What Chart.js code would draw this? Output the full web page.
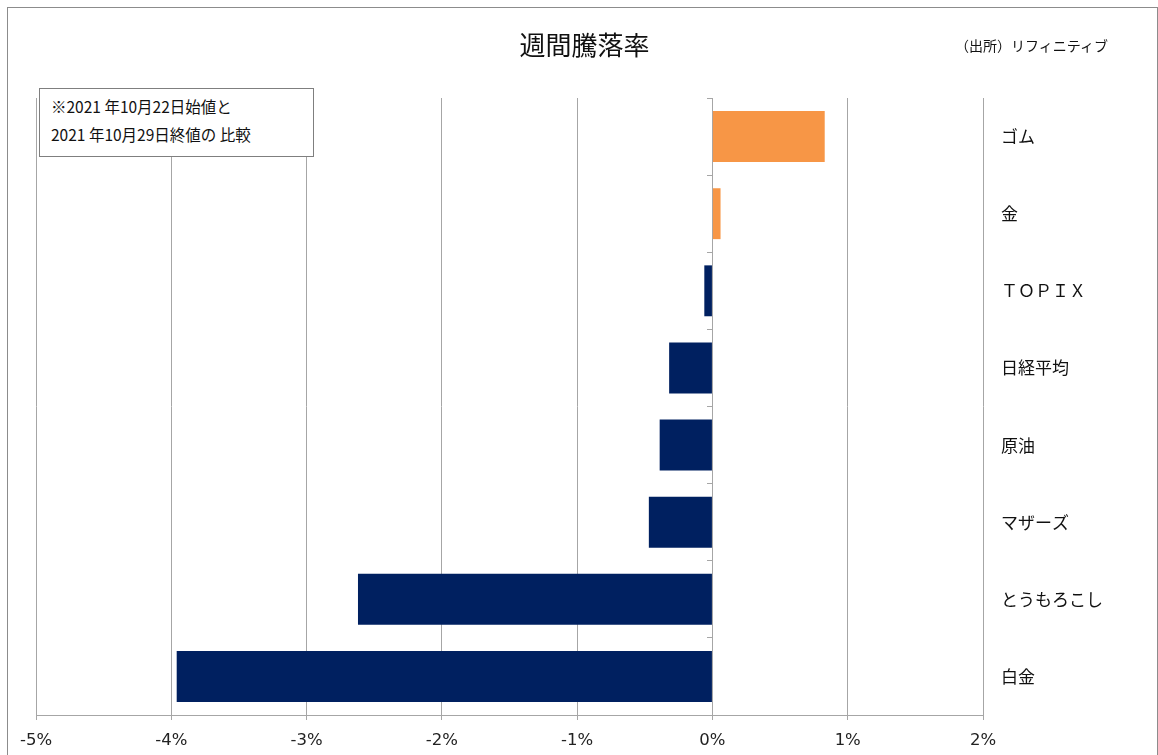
<!DOCTYPE html>
<html lang="ja">
<head>
<meta charset="utf-8">
<script src="https://cdn.jsdelivr.net/npm/chart.js@4.4.1/dist/chart.umd.min.js"></script>
<style>
    html, body { margin: 0; padding: 0; background: #fff; overflow: hidden; }
    .frame {
        position: absolute; left: 7px; top: 7px; width: 1149px; height: 770px;
        border: 1px solid #8c8c8c; background: #fff;
    }
    .chart-box { position: absolute; left: 0; top: 0; width: 1149px; height: 747px; }
    .title {
        position: absolute; left: 0; width: 1149px; top: 17px; text-align: center;
        font: 26px "Noto Sans CJK JP", sans-serif; color: #111; padding-left: 2px;
    }
    .source {
        position: absolute; left: 947px; top: 27px;
        font: 14px "Noto Sans CJK JP", sans-serif; color: #111;
    }
    .note {
        position: absolute; left: 31px; top: 80px; width: 275px; height: 69px;
        border: 1px solid #7f7f7f; background: #fff; box-sizing: border-box;
        font: 15.5px "Noto Sans CJK JP", sans-serif; color: #111; line-height: 28px;
        padding: 3px 0 0 11px;
    }
</style>
</head>
<body>
<div class="frame">
    <div class="chart-box"><canvas id="weeklyChart" width="1149" height="747"></canvas></div>
    <div class="title">週間騰落率</div>
    <div class="source">（出所）リフィニティブ</div>
    <div class="note">※2021 年10月22日始値と<br>2021 年10月29日終値の 比較</div>
</div>

<script>
// Data (percent)
const categories = ['ゴム', '金', 'ＴＯＰＩＸ', '日経平均', '原油', 'マザーズ', 'とうもろこし', '白金'];
const changes = [0.83, 0.06, -0.06, -0.32, -0.39, -0.47, -2.62, -3.96];
const xTicks = [-5, -4, -3, -2, -1, 0, 1, 2];

const gridGray = '#a6a6a6';

document.addEventListener('DOMContentLoaded', function() {
    initializeChart();
});

function initializeChart() {
    const ctx = document.getElementById('weeklyChart').getContext('2d');
    new Chart(ctx, {
        type: 'bar',
        data: {
            labels: categories,
            datasets: [{
                data: changes,
                backgroundColor: changes.map(v => v >= 0 ? '#f79646' : '#002060'),
                borderWidth: 0,
                categoryPercentage: 1,
                barPercentage: 0.66
            }]
        },
        options: {
            indexAxis: 'y',
            responsive: false,
            animation: false,
            layout: { padding: { left: 28, top: 90, right: 0, bottom: 0 } },
            plugins: {
                legend: { display: false },
                tooltip: { enabled: false }
            },
            scales: {
                x: {
                    min: -5,
                    max: 2,
                    afterBuildTicks: scale => {
                        scale.ticks = xTicks.map(v => ({ value: v }));
                    },
                    afterFit: scale => { scale.height = 40; },
                    grid: { color: gridGray, lineWidth: 1, tickLength: 5 },
                    border: { color: gridGray },
                    ticks: {
                        padding: 11,
                        color: '#222',
                        font: { family: 'DejaVu Sans', size: 16.5 },
                        callback: v => v + '%'
                    }
                },
                y: {
                    position: 'right',
                    afterFit: scale => { scale.width = 174; },
                    grid: { display: false },
                    border: { display: false },
                    ticks: {
                        crossAlign: 'near',
                        padding: 10,
                        color: '#111',
                        font: { family: 'Noto Sans CJK JP', size: 17 }
                    }
                },
                zeroAxis: {
                    type: 'category',
                    axis: 'y',
                    position: { x: 0 },
                    offset: true,
                    grid: { offset: true, drawOnChartArea: false, tickLength: 5, color: gridGray },
                    border: { color: gridGray },
                    ticks: { display: false }
                }
            }
        }
    });
}
</script>
</body>
</html>
